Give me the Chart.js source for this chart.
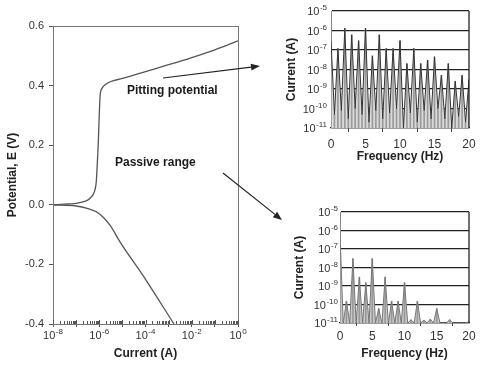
<!DOCTYPE html>
<html>
<head>
<meta charset="utf-8">
<script src="https://cdn.jsdelivr.net/npm/chart.js@4.4.1/dist/chart.umd.min.js"></script>
<style>
  html, body { margin: 0; padding: 0; background: #fff; }
  #wrap { position: relative; width: 493px; height: 366px; overflow: hidden; }
  canvas { position: absolute; }
  #mainChart { left: 0; top: 0; width: 493px; height: 366px; }
  #fftTop { left: 280px; top: 0; width: 213px; height: 170px; }
  #fftBottom { left: 280px; top: 200px; width: 213px; height: 166px; }
</style>
</head>
<body>
<div id="wrap">
  <canvas id="mainChart" width="493" height="366"></canvas>
  <canvas id="fftTop" width="213" height="170"></canvas>
  <canvas id="fftBottom" width="213" height="166"></canvas>
</div>
<script>
// Polarisation curve (current in A, potential in V)
const anodicCurrent   = [1e-8, 3e-8, 1e-7, 2e-7, 3e-7, 4e-7, 5.5e-7, 6.5e-7, 7.5e-7, 8e-7, 9e-7, 1e-6, 1.1e-6, 1.3e-6, 1.8e-6, 3e-6, 1e-5, 1e-4, 1e-3, 1e-2, 1e-1, 1];
const anodicPotential = [0.0, 0.002, 0.005, 0.01, 0.015, 0.022, 0.035, 0.05, 0.08, 0.12, 0.2, 0.3, 0.37, 0.39, 0.403, 0.413, 0.424, 0.447, 0.47, 0.494, 0.52, 0.55];
const cathodicCurrent   = [1e-8, 1e-7, 3e-7, 1e-6, 3e-6, 8e-6, 1e-4, 1.7e-3];
const cathodicPotential = [0.0, -0.004, -0.012, -0.03, -0.07, -0.125, -0.25, -0.4];

const potentialTicks = [0.6, 0.4, 0.2, 0.0, -0.2, -0.4];
const currentDecades = [-8, -7, -6, -5, -4, -3, -2, -1, 0];
const labelledDecades = [-8, -6, -4, -2, 0];

// Spectra (frequency in Hz, current in A)
const frequencies = [0, 0.5, 1, 1.5, 2, 2.5, 3, 3.5, 4, 4.5, 5, 5.5, 6, 6.5, 7, 7.5, 8, 8.5, 9, 9.5,
  10, 10.5, 11, 11.5, 12, 12.5, 13, 13.5, 14, 14.5, 15, 15.5, 16, 16.5, 17, 17.5, 18, 18.5, 19, 19.5, 20];
const pittingSpectrum = [3e-7, 5e-11, 1.2e-7, 8e-11, 1.3e-6, 3e-11, 6e-7, 1e-10, 3e-7, 5e-11,
  1.3e-6, 2e-11, 5e-8, 8e-11, 6e-7, 3e-11, 1.2e-7, 6e-11, 1.2e-7, 1e-10,
  3e-7, 1e-11, 2e-8, 6e-11, 1.2e-7, 2e-11, 2e-8, 8e-11, 3e-8, 3e-11,
  4.5e-8, 1e-10, 5e-9, 3e-11, 2e-8, 1e-11, 2.5e-9, 4e-11, 5e-9, 2e-11, 3e-9];
const passiveSpectrum = [7e-7, 1e-11, 1.5e-10, 1e-11, 3e-8, 1e-11, 3e-9, 1e-11, 1.5e-9, 1e-11,
  3e-8, 1e-11, 6e-11, 1e-11, 3e-9, 1e-11, 1.5e-10, 1e-11, 1.5e-10, 1e-11,
  1.5e-9, 1e-11, 1.5e-11, 1e-11, 1.5e-10, 1e-11, 1.4e-11, 1e-11, 1.6e-11, 1e-11,
  6e-11, 1e-11, 1e-11, 1e-11, 1.5e-11, 1e-11, 1e-11, 1e-11, 1e-11, 1e-11, 1.2e-11];
const spectrumDecades = [-5, -6, -7, -8, -9, -10, -11];
const frequencyTicks = [0, 5, 10, 15, 20];

const FONT = "'Liberation Sans', Arial, sans-serif";
Chart.defaults.font.family = FONT;
Chart.defaults.color = '#333';
Chart.defaults.animation = false;

// draws "10" with a raised exponent
function drawPower(ctx, exp, x, baseline, align, size) {
  const supSize = Math.round(size * 0.72);
  ctx.font = size + 'px ' + FONT;
  const wb = ctx.measureText('10').width;
  ctx.font = supSize + 'px ' + FONT;
  const ws = ctx.measureText(String(exp)).width;
  const total = wb + ws + 0.5;
  const left = align === 'right' ? x - total : x - total / 2;
  ctx.fillStyle = '#333';
  ctx.textAlign = 'left';
  ctx.textBaseline = 'alphabetic';
  ctx.font = size + 'px ' + FONT;
  ctx.fillText('10', left, baseline);
  ctx.font = supSize + 'px ' + FONT;
  ctx.fillText(String(exp), left + wb + 0.5, baseline - size * 0.42);
}

function arrow(ctx, x1, y1, x2, y2) {
  const ang = Math.atan2(y2 - y1, x2 - x1);
  const len = 9, half = 3.5;
  ctx.beginPath();
  ctx.moveTo(x1, y1);
  ctx.lineTo(x2 - Math.cos(ang) * len, y2 - Math.sin(ang) * len);
  ctx.stroke();
  ctx.beginPath();
  ctx.moveTo(x2, y2);
  ctx.lineTo(x2 - Math.cos(ang) * len - Math.sin(ang) * half, y2 - Math.sin(ang) * len + Math.cos(ang) * half);
  ctx.lineTo(x2 - Math.cos(ang) * len + Math.sin(ang) * half, y2 - Math.sin(ang) * len - Math.cos(ang) * half);
  ctx.closePath();
  ctx.fill();
}

const mainDecor = {
  id: 'mainDecor',
  afterDraw(chart) {
    const { ctx, chartArea: a, scales: { x } } = chart;
    ctx.save();
    // frame
    ctx.strokeStyle = '#777';
    ctx.lineWidth = 1;
    ctx.strokeRect(Math.round(a.left) + 0.5, Math.round(a.top) + 0.5, Math.round(a.right - a.left), Math.round(a.bottom - a.top));
    // minor ticks inside the bottom axis
    ctx.strokeStyle = '#555';
    ctx.beginPath();
    currentDecades.forEach(e => {
      const px = Math.round(x.getPixelForValue(Math.pow(10, e))) + 0.5;
      ctx.moveTo(px, a.bottom); ctx.lineTo(px, a.bottom - 4);
      if (e === 0) return;
      for (let m = 2; m <= 9; m++) {
        const mx = Math.round(x.getPixelForValue(m * Math.pow(10, e))) + 0.5;
        ctx.moveTo(mx, a.bottom); ctx.lineTo(mx, a.bottom - 3);
      }
    });
    ctx.stroke();
    labelledDecades.forEach(e => drawPower(ctx, e, x.getPixelForValue(Math.pow(10, e)), a.bottom + 15, 'center', 11));

    // annotations
    ctx.fillStyle = '#1a1a1a';
    ctx.font = 'bold 12px ' + FONT;
    ctx.textBaseline = 'middle';
    ctx.textAlign = 'left';
    ctx.fillText('Pitting potential', 127, 91);
    ctx.fillText('Passive range', 115, 163);
    ctx.strokeStyle = '#222';
    ctx.fillStyle = '#222';
    ctx.lineWidth = 1.2;
    arrow(ctx, 163, 78, 260, 66);
    arrow(ctx, 223, 173, 282, 220);
    ctx.restore();
  }
};

new Chart(document.getElementById('mainChart'), {
  type: 'scatter',
  data: {
    datasets: [
      {
        label: 'anodic',
        data: anodicCurrent.map((c, i) => ({ x: c, y: anodicPotential[i] })),
        showLine: true, borderColor: '#555', borderWidth: 1.3, pointRadius: 0, cubicInterpolationMode: 'monotone'
      },
      {
        label: 'cathodic',
        data: cathodicCurrent.map((c, i) => ({ x: c, y: cathodicPotential[i] })),
        showLine: true, borderColor: '#555', borderWidth: 1.3, pointRadius: 0, cubicInterpolationMode: 'monotone'
      }
    ]
  },
  options: {
    responsive: false,
    layout: { padding: { left: 0, top: 26, right: 255, bottom: 0 } },
    plugins: { legend: { display: false }, tooltip: { enabled: false } },
    scales: {
      x: {
        type: 'logarithmic', min: 1e-8, max: 1,
        afterBuildTicks: s => { s.ticks = currentDecades.map(e => ({ value: Math.pow(10, e) })); },
        afterFit: s => { s.height = 42; },
        ticks: { display: false },
        grid: { drawOnChartArea: false, drawTicks: true, tickLength: 3, color: '#555' },
        border: { color: '#666', width: 1 },
        title: { display: true, text: 'Current (A)', color: '#222', font: { size: 12, weight: 'bold' }, padding: { top: 0, bottom: 5 } }
      },
      y: {
        min: -0.4, max: 0.6,
        afterBuildTicks: s => { s.ticks = potentialTicks.map(v => ({ value: v })); },
        afterFit: s => { s.width = 53; },
        ticks: { callback: v => v.toFixed(1), font: { size: 11 }, color: '#333', padding: 5 },
        grid: { drawOnChartArea: false, tickLength: 4, color: '#555' },
        border: { color: '#666', width: 1 },
        title: { display: true, text: 'Potential, E (V)', color: '#222', font: { size: 12, weight: 'bold' }, padding: { top: 5, bottom: 0 } }
      }
    }
  },
  plugins: [mainDecor]
});

const spectrumDecor = {
  id: 'spectrumDecor',
  afterDraw(chart, args, opts) {
    const { ctx, chartArea: a, scales: { y } } = chart;
    ctx.save();
    ctx.strokeStyle = '#222';
    ctx.lineWidth = 1.3;
    ctx.beginPath();
    ctx.moveTo(a.right, a.top); ctx.lineTo(a.right, a.bottom);
    ctx.stroke();
    spectrumDecades.forEach(e => drawPower(ctx, e, a.left - opts.gap, y.getPixelForValue(Math.pow(10, e)) + 4, 'right', 11));
    ctx.restore();
  }
};

function spectrumChart(id, values, look) {
  const points = frequencies.map((f, i) => ({ x: f, y: values[i] }));
  return new Chart(document.getElementById(id), {
    type: 'bar',
    data: {
      datasets: [
        {
          type: 'line', data: points, borderColor: look.line, borderWidth: 1,
          backgroundColor: look.fill, fill: 'start', pointRadius: 0, tension: 0, order: 0
        },
        {
          type: 'bar', data: points, backgroundColor: look.stick, barThickness: 1, order: 1
        }
      ]
    },
    options: {
      responsive: false,
      layout: { padding: { left: 0, top: look.top, right: look.right, bottom: 0 } },
      plugins: {
        legend: { display: false }, tooltip: { enabled: false },
        filler: { drawTime: 'beforeDatasetsDraw' },
        spectrumDecor: { gap: look.gap }
      },
      scales: {
        x: {
          type: 'linear', min: 0, max: 20, offset: false,
          afterBuildTicks: s => { s.ticks = frequencyTicks.map(v => ({ value: v })); },
          afterFit: s => { s.height = look.xHeight; },
          ticks: { font: { size: 12 }, color: '#333', padding: look.xPad, maxRotation: 0 },
          grid: { drawOnChartArea: false, tickLength: look.tick, color: '#444' },
          border: { color: '#222', width: 1.3 },
          title: { display: true, text: 'Frequency (Hz)', color: '#222', font: { size: 12, weight: 'bold' }, padding: { top: 0, bottom: look.titleBottom } }
        },
        y: {
          type: 'logarithmic', min: 1e-11, max: 1e-5, z: 1,
          afterBuildTicks: s => { s.ticks = spectrumDecades.map(e => ({ value: Math.pow(10, e) })); },
          afterFit: s => { s.width = look.yWidth; },
          ticks: { display: false },
          grid: { drawTicks: false, color: '#222', lineWidth: 1.3 },
          border: { color: '#888', width: 1 },
          title: { display: true, text: 'Current (A)', color: '#222', font: { size: 12, weight: 'bold' }, padding: { top: look.titleLeft, bottom: 0 } }
        }
      }
    },
    plugins: [spectrumDecor]
  });
}

spectrumChart('fftTop', pittingSpectrum, {
  line: '#333', fill: '#dadada', stick: '#9a9a9a',
  top: 11, right: 24, yWidth: 51, xHeight: 42, xPad: 5, tick: 4, titleBottom: 6, titleLeft: 4, gap: 4
});
spectrumChart('fftBottom', passiveSpectrum, {
  line: '#777', fill: '#c8c8c8', stick: '#999',
  top: 12, right: 24, yWidth: 60, xHeight: 43, xPad: 3, tick: 3, titleBottom: 5, titleLeft: 12, gap: 2
});
</script>
</body>
</html>
